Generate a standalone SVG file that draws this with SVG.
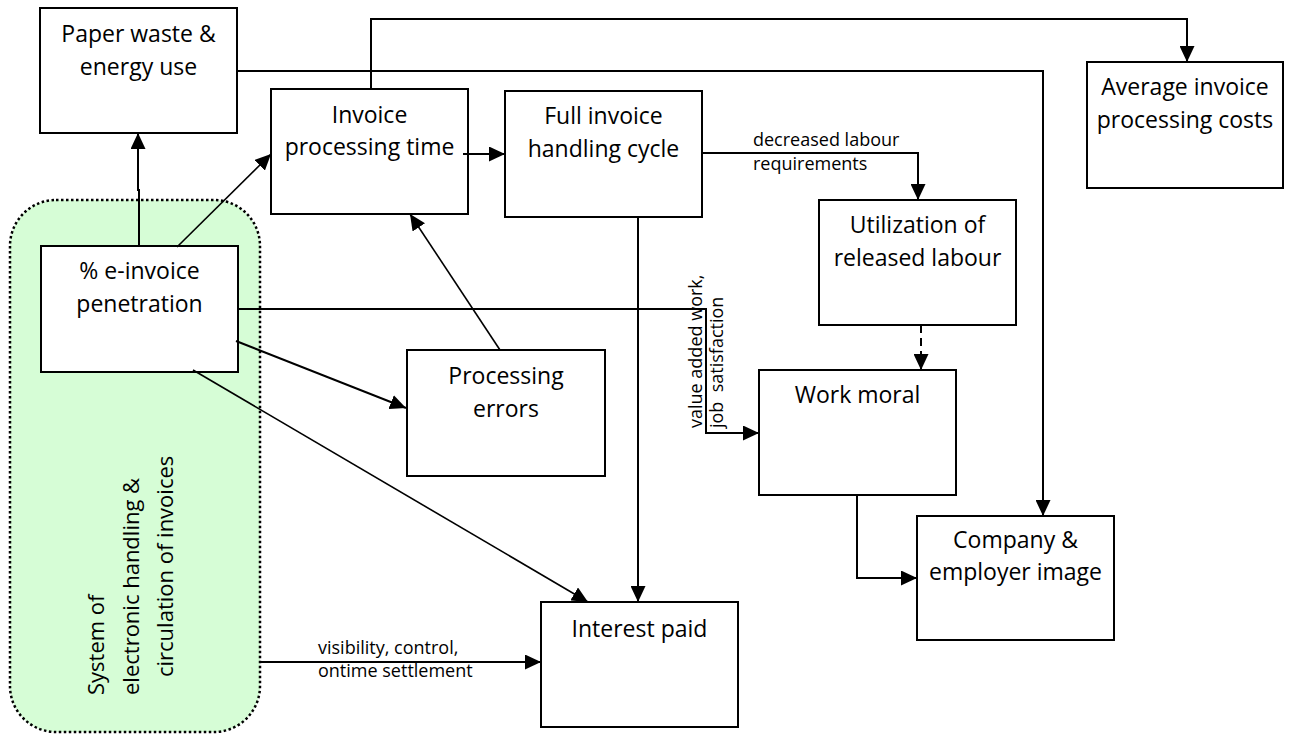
<svg xmlns="http://www.w3.org/2000/svg" width="1293" height="735" viewBox="0 0 1293 735">
  <style>
    .box { fill: #ffffff; stroke: #000000; stroke-width: 2; }
    .lbl { font-family: "Open Sans", "Liberation Sans", sans-serif; font-size: 23px; fill: #000000; text-anchor: middle; }
    .small { font-family: "Open Sans", "Liberation Sans", sans-serif; font-size: 18px; fill: #000000; }
    .big { font-family: "Open Sans", "Liberation Sans", sans-serif; font-size: 22px; fill: #000000; }
    .wire { fill: none; stroke: #000000; stroke-width: 2; marker-end: url(#arrow); }
    .thin { stroke-width: 1.6; }
    .dash { stroke-dasharray: 8 5; }
  </style>
  <defs>
    <marker id="arrow" viewBox="0 0 16 15" refX="16" refY="7.5" markerWidth="16" markerHeight="15" markerUnits="userSpaceOnUse" orient="auto">
      <path d="M0,0 L16,7.5 L0,15 Z" fill="#000000"/>
    </marker>
  </defs>

  <rect width="1293" height="735" fill="#ffffff"/>

  <!-- system boundary -->
  <g id="system">
    <rect x="10" y="200" width="250" height="532" rx="46" ry="46" fill="#d6fdd6" stroke="#000000" stroke-width="2.5" stroke-dasharray="2.5 2.5"/>
    <text class="big" transform="translate(104,695) rotate(-90)">System of</text>
    <text class="big" transform="translate(139,695) rotate(-90)">electronic handling &amp;</text>
    <text class="big" transform="translate(173,677) rotate(-90)">circulation of invoices</text>
  </g>

  <g id="paper-waste">
    <rect class="box" x="40" y="8" width="197" height="125"/>
    <text class="lbl" x="138.5" y="42">Paper waste &amp;</text>
    <text class="lbl" x="138.5" y="75">energy use</text>
  </g>

  <g id="processing-time">
    <rect class="box" x="271" y="89" width="197" height="125"/>
    <text class="lbl" x="369.5" y="123">Invoice</text>
    <text class="lbl" x="369.5" y="155">processing time</text>
  </g>

  <g id="handling-cycle">
    <rect class="box" x="505" y="91" width="197" height="126"/>
    <text class="lbl" x="603.5" y="124">Full invoice</text>
    <text class="lbl" x="603.5" y="157">handling cycle</text>
  </g>

  <g id="processing-costs">
    <rect class="box" x="1087" y="62" width="196" height="126"/>
    <text class="lbl" x="1185" y="95">Average invoice</text>
    <text class="lbl" x="1185" y="128">processing costs</text>
  </g>

  <g id="released-labour">
    <rect class="box" x="819" y="200" width="197" height="125"/>
    <text class="lbl" x="917.5" y="233">Utilization of</text>
    <text class="lbl" x="917.5" y="266">released labour</text>
  </g>

  <g id="penetration">
    <rect class="box" x="41" y="246" width="197" height="126"/>
    <text class="lbl" x="139.5" y="279">% e-invoice</text>
    <text class="lbl" x="139.5" y="312">penetration</text>
  </g>

  <g id="processing-errors">
    <rect class="box" x="407" y="350" width="198" height="126"/>
    <text class="lbl" x="506" y="384">Processing</text>
    <text class="lbl" x="506" y="417">errors</text>
  </g>

  <g id="work-moral">
    <rect class="box" x="759" y="370" width="197" height="125"/>
    <text class="lbl" x="857.5" y="403">Work moral</text>
  </g>

  <g id="employer-image">
    <rect class="box" x="917" y="516" width="197" height="124"/>
    <text class="lbl" x="1015.5" y="548">Company &amp;</text>
    <text class="lbl" x="1015.5" y="580">employer image</text>
  </g>

  <g id="interest-paid">
    <rect class="box" x="541" y="602" width="197" height="125"/>
    <text class="lbl" x="639.5" y="637">Interest paid</text>
  </g>

  <!-- connectors -->
  <g id="connectors">
    <path class="wire" d="M139,246 V190 H138 V133"/>
    <path class="wire thin" d="M177,247 L271,154"/>
    <path class="wire" d="M463,154 H505"/>
    <path class="wire" d="M371,89 V19 H1187 V62"/>
    <path class="wire" d="M237,71 H1043 V516"/>
    <path class="wire" d="M702,153 H918 V200"/>
    <path class="wire" d="M638,217 V602"/>
    <path class="wire dash" d="M921,325 V370"/>
    <path class="wire" d="M238,309 H706 V433 H759"/>
    <path class="wire" d="M236,341 L406,408"/>
    <path class="wire thin" d="M500,350 L410,214"/>
    <path class="wire thin" d="M193,370 L588,602"/>
    <path class="wire" d="M260,662 H541"/>
    <path class="wire" d="M857,495 V578 H917"/>
  </g>

  <!-- connector labels -->
  <g id="connector-labels">
    <text class="small" x="753" y="146">decreased labour</text>
    <text class="small" x="753" y="170">requirements</text>
    <text class="small" transform="translate(702,428) rotate(-90)">value added work,</text>
    <text class="small" xml:space="preserve" transform="translate(723,428) rotate(-90)">job  satisfaction</text>
    <text class="small" x="318" y="654">visibility, control,</text>
    <text class="small" x="318" y="677">ontime settlement</text>
  </g>
</svg>
